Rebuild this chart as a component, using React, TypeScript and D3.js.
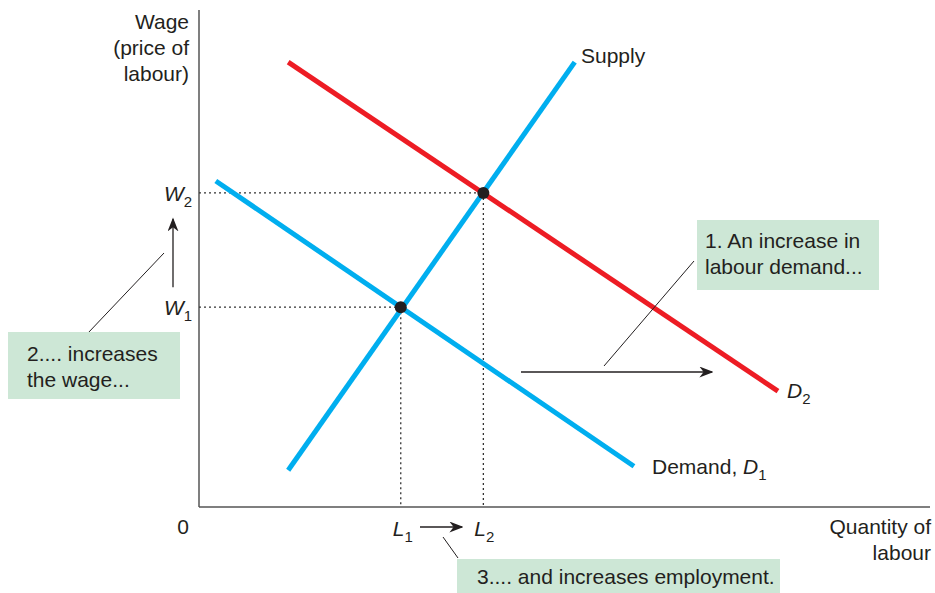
import React from 'react';
import { scaleLinear, line } from 'd3';

// curves in chart units (quantity, wage), 0..100 on both axes
const supplyPoints: [number, number][] = [[12.2, 7.4], [51.4, 89.5]];
const demand1Points: [number, number][] = [[2.3, 65.6], [59.5, 8.2]];
const demand2Points: [number, number][] = [[12.2, 89.5], [79.2, 23.3]];
const equilibria: { q: number; w: number; wLabel: string; lLabel: string }[] = [
  { q: 27.6, w: 40.2, wLabel: '1', lLabel: '1' },
  { q: 38.9, w: 63.2, wLabel: '2', lLabel: '2' },
];
const axisTitleY = ['Wage', '(price of', 'labour)'];
const axisTitleX = ['Quantity of', 'labour'];
const note1 = ['1. An increase in', 'labour demand...'];
const note2 = ['2.... increases', 'the wage...'];
const note3 = ['3.... and increases employment.'];

const W = 935;
const H = 593;
const BLUE = '#00aeef';
const RED = '#ed1c24';
const BOX = '#cde7d6';
const INK = '#231f20';
const FONT = 'Liberation Sans, Arial, Helvetica, sans-serif';
const FS = 21;
const SUB = 15;

const x = scaleLinear().domain([0, 100]).range([199, 930]);
const y = scaleLinear().domain([0, 100]).range([507, 10]);

const path = line<[number, number]>().x(d => x(d[0])).y(d => y(d[1]));

const Sub = ({ tx, ty, main, sub, anchor = 'start' }: any) => (
  <text x={tx} y={ty} fontFamily={FONT} fontSize={FS} fill={INK} textAnchor={anchor}>
    <tspan fontStyle="italic">{main}</tspan>
    <tspan fontSize={SUB} dy={6}>{sub}</tspan>
  </text>
);

const Box = ({ bx, by, bw, bh, lines, tx, ty }: any) => (
  <g>
    <rect x={bx} y={by} width={bw} height={bh} fill={BOX} />
    <text fontFamily={FONT} fontSize={FS} fill={INK}>
      {lines.map((t: string, i: number) => (
        <tspan key={i} x={tx} y={ty + i * 26}>{t}</tspan>
      ))}
    </text>
  </g>
);

export default function App() {
  const [e1, e2] = equilibria;
  return (
    <svg width={W} height={H} style={{ position: 'absolute', left: 0, top: 0, background: '#fff' }}>
      <defs>
        <marker id="ah" viewBox="0 0 10 10" refX="9" refY="5" markerWidth="14" markerHeight="11"
          markerUnits="userSpaceOnUse" orient="auto" preserveAspectRatio="none">
          <path d="M0,0 L10,5 L0,10 L3,5 z" fill={INK} />
        </marker>
      </defs>

      {/* axes */}
      <line x1={x(0)} y1={y(100)} x2={x(0)} y2={y(0)} stroke="#555" strokeWidth={1.5} />
      <line x1={x(0)} y1={y(0)} x2={x(100)} y2={y(0)} stroke="#555" strokeWidth={1.5} />

      {/* dotted guides */}
      {equilibria.map((e, i) => (
        <g key={i} stroke="#333" strokeWidth={1.3} strokeDasharray="2,3">
          <line x1={x(0)} y1={y(e.w)} x2={x(e.q)} y2={y(e.w)} />
          <line x1={x(e.q)} y1={y(e.w)} x2={x(e.q)} y2={y(0)} />
        </g>
      ))}

      {/* curves */}
      <path d={path(demand1Points) || ''} stroke={BLUE} strokeWidth={5} fill="none" />
      <path d={path(supplyPoints) || ''} stroke={BLUE} strokeWidth={5} fill="none" />
      <path d={path(demand2Points) || ''} stroke={RED} strokeWidth={5} fill="none" />

      {equilibria.map((e, i) => (
        <circle key={i} cx={x(e.q)} cy={y(e.w)} r={6} fill={INK} />
      ))}

      {/* axis titles */}
      <text fontFamily={FONT} fontSize={FS} fill={INK} textAnchor="end">
        {axisTitleY.map((t, i) => (
          <tspan key={i} x={189} y={29 + i * 26}>{t}</tspan>
        ))}
      </text>
      <text fontFamily={FONT} fontSize={FS} fill={INK} textAnchor="end">
        {axisTitleX.map((t, i) => (
          <tspan key={i} x={931} y={534 + i * 26}>{t}</tspan>
        ))}
      </text>
      <text x={189} y={534} fontFamily={FONT} fontSize={FS} fill={INK} textAnchor="end">0</text>

      {/* curve labels */}
      <text x={581} y={63} fontFamily={FONT} fontSize={FS} fill={INK}>Supply</text>
      <text x={652} y={474} fontFamily={FONT} fontSize={FS} fill={INK}>
        Demand, <tspan fontStyle="italic">D</tspan><tspan fontSize={SUB} dy={6}>1</tspan>
      </text>
      <Sub tx={787} ty={398} main="D" sub="2" />

      {/* W labels and arrow */}
      <Sub tx={164} ty={y(e2.w) + 8} main="W" sub={e2.wLabel} />
      <Sub tx={164} ty={y(e1.w) + 8} main="W" sub={e1.wLabel} />
      <line x1={173} y1={y(e1.w) - 20} x2={173} y2={y(e2.w) + 26} stroke={INK} strokeWidth={1.3} markerEnd="url(#ah)" />

      {/* L labels and arrow */}
      <Sub tx={x(e1.q) - 8} ty={536} main="L" sub={e1.lLabel} />
      <Sub tx={x(e2.q) - 9} ty={536} main="L" sub={e2.lLabel} />
      <line x1={420} y1={527} x2={462} y2={527} stroke={INK} strokeWidth={1.3} markerEnd="url(#ah)" />

      {/* shift arrow */}
      <line x1={521} y1={372} x2={712} y2={372} stroke={INK} strokeWidth={1.3} markerEnd="url(#ah)" />

      {/* leaders */}
      <g stroke={INK} strokeWidth={1}>
        <line x1={604} y1={366} x2={694} y2={261} />
        <line x1={88} y1={333} x2={164} y2={253} />
        <line x1={443} y1={537} x2={458} y2={558} />
      </g>

      {/* notes */}
      <Box bx={697} by={220} bw={182} bh={70} lines={note1} tx={705} ty={248} />
      <Box bx={8} by={332} bw={172} bh={67} lines={note2} tx={27} ty={361} />
      <Box bx={457} by={559} bw={323} bh={34} lines={note3} tx={477} ty={584} />
    </svg>
  );
}
